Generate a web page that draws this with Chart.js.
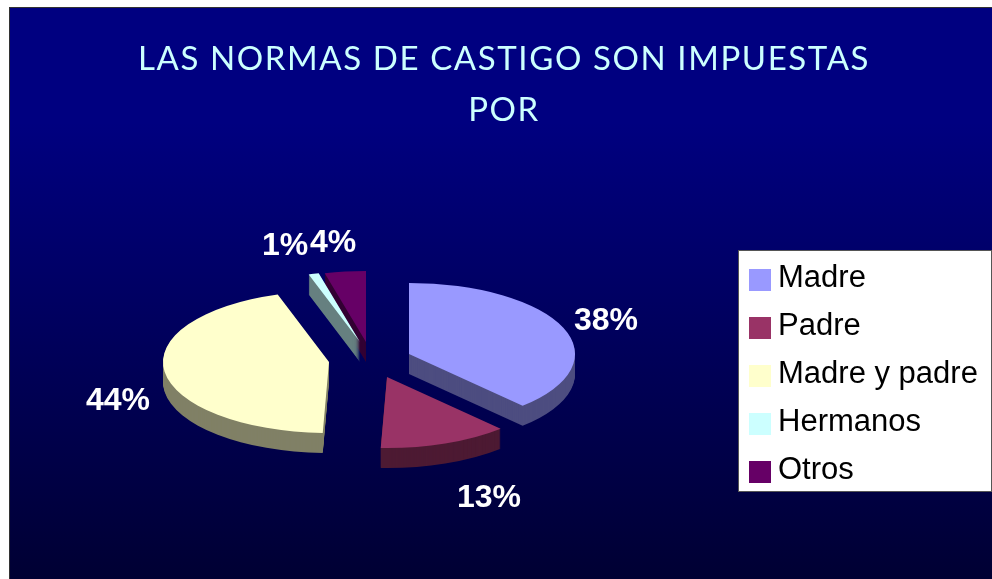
<!DOCTYPE html>
<html>
<head>
<meta charset="utf-8">
<style>
html,body{margin:0;padding:0;background:#fff;width:992px;height:579px;overflow:hidden}
#panel{position:absolute;left:9px;top:7px;width:983px;height:572px;box-sizing:border-box;border-top:1px solid #333;border-left:1px solid #333;
background:linear-gradient(to bottom,#000080 0%,#000080 20%,#000033 100%)}
#c{position:absolute;left:0;top:0}
</style>
<script src="https://cdn.jsdelivr.net/npm/chart.js@4/dist/chart.umd.min.js"></script>
</head>
<body>
<div id="panel"></div>
<canvas id="c" width="992" height="579" style="width:992px;height:579px"></canvas>
<script>
const titleLines = ['LAS NORMAS DE CASTIGO SON IMPUESTAS', 'POR'];
const categories = ['Madre', 'Padre', 'Madre y padre', 'Hermanos', 'Otros'];
const values = [38, 12.6, 44.4, 1, 4];
const valueLabels = ['38%', '13%', '44%', '1%', '4%'];
const topColors = ['#9999FF', '#993366', '#FFFFCC', '#CCFFFF', '#660066'];
const sideColors = ['#4D4D80', '#4D1A33', '#808066', '#668080', '#330033'];

// styling of the tilted, exploded pie
const pieCentre = {x: 365, y: 352};
const tilt = 0.428;
const depth = 20;
const explodeX = [44, 22, -36, -5, 1];
const explodeY = [2, 25, 10, -10, -10];
const labelDX = [197, 102, -211, -75, -33];
const labelDY = [-34, 120, 38, -97, -100];
const drawOrder = [4, 3, 0, 2, 1];

function swatch(color) {
  const cv = document.createElement('canvas');
  cv.width = 22; cv.height = 26;
  const g = cv.getContext('2d');
  g.fillStyle = color;
  g.fillRect(0, 4, 22, 22);
  return cv;
}

const tiltedPie = {
  id: 'tiltedPie',
  afterLayout(chart) {
    const lg = chart.legend;
    const w = lg.width, h = lg.height;
    lg.left = 740.5; lg.right = lg.left + w;
    lg.top = 245.5; lg.bottom = lg.top + h;
    const tb = chart.titleBlock;
    if (!tb._wrapped) {
      const orig = tb.draw;
      tb.draw = function () {
        const c = chart.ctx;
        c.save();
        c.letterSpacing = '1.6px';
        c.translate(8, 0);
        orig.call(this);
        c.restore();
      };
      tb._wrapped = true;
    }
  },
  beforeDraw(chart) {
    const c = chart.ctx;
    c.save();
    c.fillStyle = '#fff';
    c.fillRect(738, 250, 253, 241);
    c.strokeStyle = '#555';
    c.lineWidth = 1;
    c.strokeRect(738.5, 250.5, 253, 241);
    c.restore();
  },
  beforeDatasetDraw() { return false; },
  afterDatasetsDraw(chart) {
    const c = chart.ctx;
    const arcs = chart.getDatasetMeta(0).data;
    const paint = (i, d, color) => {
      const a = arcs[i];
      const saved = a.options;
      c.save();
      c.translate(pieCentre.x + explodeX[i], pieCentre.y + explodeY[i] + d);
      c.scale(1, tilt);
      c.translate(-a.x, -a.y);
      a.options = Object.assign(Object.create(saved), {backgroundColor: color, borderColor: color, borderWidth: 0});
      a.draw(c);
      a.options = saved;
      c.restore();
    };
    drawOrder.forEach(i => {
      for (let d = depth; d > 0; d--) paint(i, d, sideColors[i]);
      paint(i, 0, topColors[i]);
    });
    c.save();
    c.font = 'bold 32px "Liberation Sans"';
    c.fillStyle = '#fff';
    c.textAlign = 'center';
    c.textBaseline = 'middle';
    valueLabels.forEach((t, i) => {
      c.fillText(t, pieCentre.x + explodeX[i] + labelDX[i], pieCentre.y + explodeY[i] + labelDY[i] + 1.5);
    });
    c.restore();
  }
};

new Chart(document.getElementById('c'), {
  type: 'pie',
  data: {
    labels: categories,
    datasets: [{data: values, backgroundColor: topColors, borderWidth: 0}]
  },
  options: {
    responsive: false,
    animation: false,
    radius: 166,
    plugins: {
      tooltip: {enabled: false},
      title: {
        display: true,
        text: titleLines,
        color: '#CCFFFF',
        font: {family: 'Lato', size: 33, weight: 'normal', lineHeight: 1.55},
        padding: {top: 34, bottom: 10}
      },
      legend: {
        display: true,
        position: 'right',
        align: 'start',
        labels: {
          color: '#000',
          font: {family: '"Liberation Sans"', size: 31, lineHeight: 1},
          usePointStyle: true,
          pointStyleWidth: 5,
          boxHeight: 22,
          padding: 17,
          generateLabels: () => categories.map((t, i) => ({
            text: t, fillStyle: topColors[i], strokeStyle: topColors[i], lineWidth: 0,
            pointStyle: swatch(topColors[i]), hidden: false, index: i, fontColor: '#000'
          }))
        }
      }
    }
  },
  plugins: [tiltedPie]
});
</script>
</body>
</html>
